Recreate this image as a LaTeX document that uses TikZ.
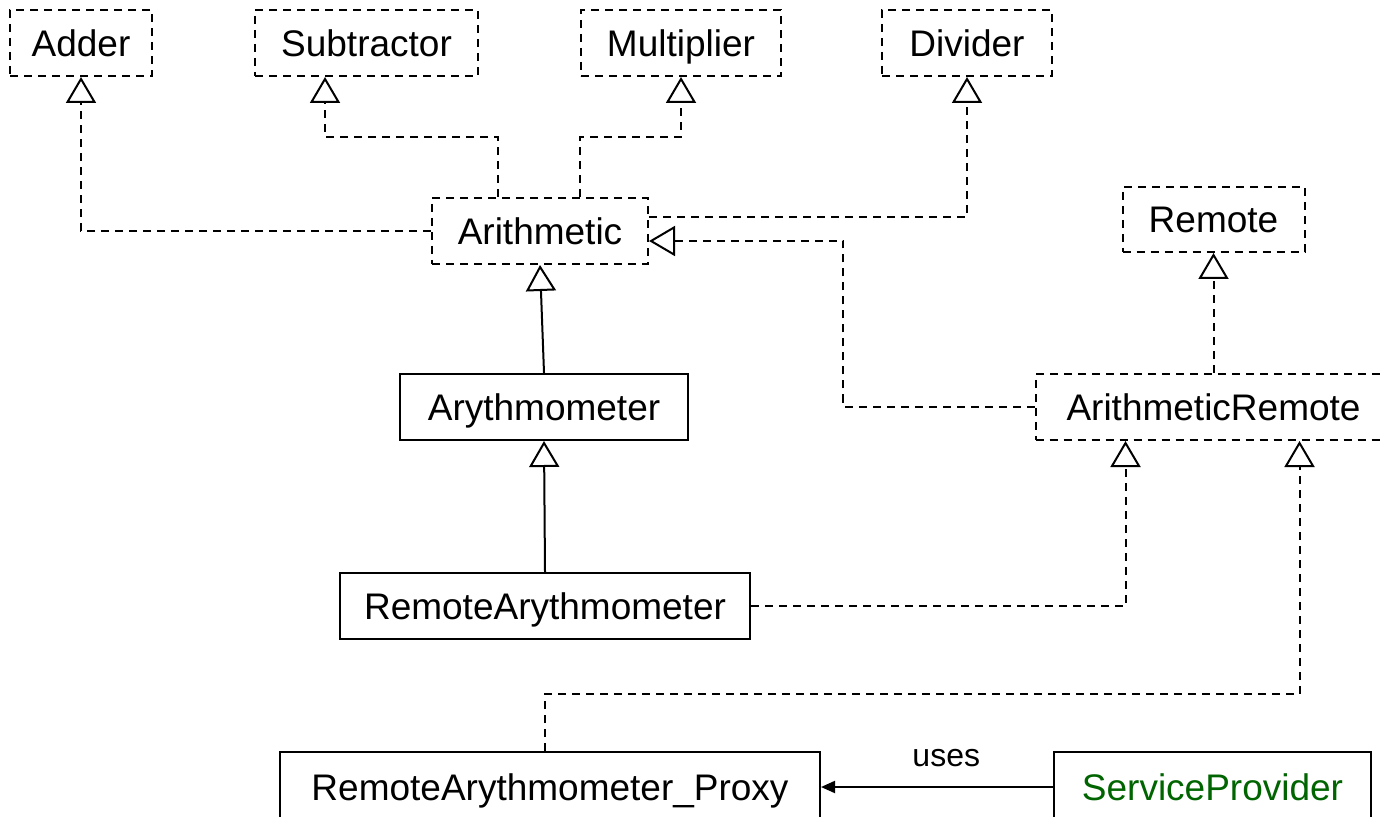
\documentclass[tikz,border=0pt]{standalone}
\usepackage{fontspec}
\setmainfont{Liberation Sans}
\usetikzlibrary{arrows.meta}
\definecolor{providergreen}{RGB}{0,100,0}
\begin{document}
\begin{tikzpicture}[x=0.5pt,y=-0.5pt,
  every node/.style={font=\fontsize{18.5}{22}\selectfont},
  classbox/.style={draw, line width=1pt, inner sep=0pt, text height=13.25pt, text depth=0pt},
  ifacebox/.style={classbox, dash pattern=on 4pt off 3pt},
  realize/.style={line width=1pt, dash pattern=on 4pt off 3pt,
    -{Triangle[open,length=13pt,width=15pt]}},
  inherit/.style={line width=1pt, -{Triangle[open,length=13pt,width=15pt]}},
  usesline/.style={line width=1pt, -{Triangle[length=7pt,width=6pt]}}
]
\useasboundingbox (0,0) rectangle (1384,817);
\clip (0,0) rectangle (1384,817);
\fill[white] (0,0) rectangle (1384,817);

% interfaces
\node[ifacebox, minimum width=71pt,    minimum height=33pt]   (adder)  at (81,43)       {Adder};
\node[ifacebox, minimum width=111.5pt, minimum height=33pt]   (sub)    at (366.5,43)    {Subtractor};
\node[ifacebox, minimum width=100pt,   minimum height=33pt]   (mul)    at (681,43)      {Multiplier};
\node[ifacebox, minimum width=85pt,    minimum height=33pt]   (div)    at (967,43)      {Divider};
\node[ifacebox, minimum width=108pt,   minimum height=33pt]   (arith)  at (540,231)     {Arithmetic};
\node[ifacebox, minimum width=91pt,    minimum height=32.5pt] (remote) at (1213.5,219.5) {Remote};
\node[ifacebox, minimum width=178pt,   minimum height=33pt]   (arem)   at (1213.5,407)  {ArithmeticRemote};

% classes
\node[classbox, minimum width=144pt,   minimum height=33pt] (aryth)    at (544,407)  {Arythmometer};
\node[classbox, minimum width=205pt,   minimum height=33pt] (remaryth) at (545,606)  {RemoteArythmometer};
\node[classbox, minimum width=270pt,   minimum height=35pt] (proxy)    at (550,787)  {RemoteArythmometer\_Proxy};
\node[classbox, minimum width=158.5pt, minimum height=35pt, text=providergreen] (provider) at (1212.5,787) {ServiceProvider};

% routing levels
\coordinate (subLevel) at (0,137);
\coordinate (remLink) at (843,241);
\coordinate (proxyLevel) at (0,694);
\coordinate (subFoot) at ([xshift=-21pt]arith.north);
\coordinate (mulFoot) at ([xshift=20pt]arith.north);
\coordinate (proxyFoot) at ([xshift=-2.5pt]proxy.north);

% Arithmetic realizes the four operations
\draw[realize] (arith.west) -| (adder.south);
\draw[realize] (subFoot) -- (subFoot |- subLevel) -| ([xshift=-20.75pt]sub.south);
\draw[realize] (mulFoot) -- (mulFoot |- subLevel) -| (mul.south);
\draw[realize] ([yshift=7pt]arith.east) -| (div.south);

% ArithmeticRemote
\draw[realize] (arem.north) -- (remote.south);
\draw[realize] (arem.west) -| (remLink) -- ([yshift=-5pt]arith.east);

% class hierarchy
\draw[inherit] (aryth.north) -- (arith.south);
\draw[inherit] (remaryth.north) -- (aryth.south);
\draw[realize] (remaryth.east) -| ([xshift=-44pt]arem.south);
\draw[realize] (proxyFoot) -- (proxyFoot |- proxyLevel) -| ([xshift=43pt]arem.south);

% usage
\draw[usesline] (provider.west) -- (proxy.east)
  node[pos=0.46, yshift=14.25pt, font=\fontsize{16}{19}\selectfont] (usesLabel) {uses};
\end{tikzpicture}
\end{document}
